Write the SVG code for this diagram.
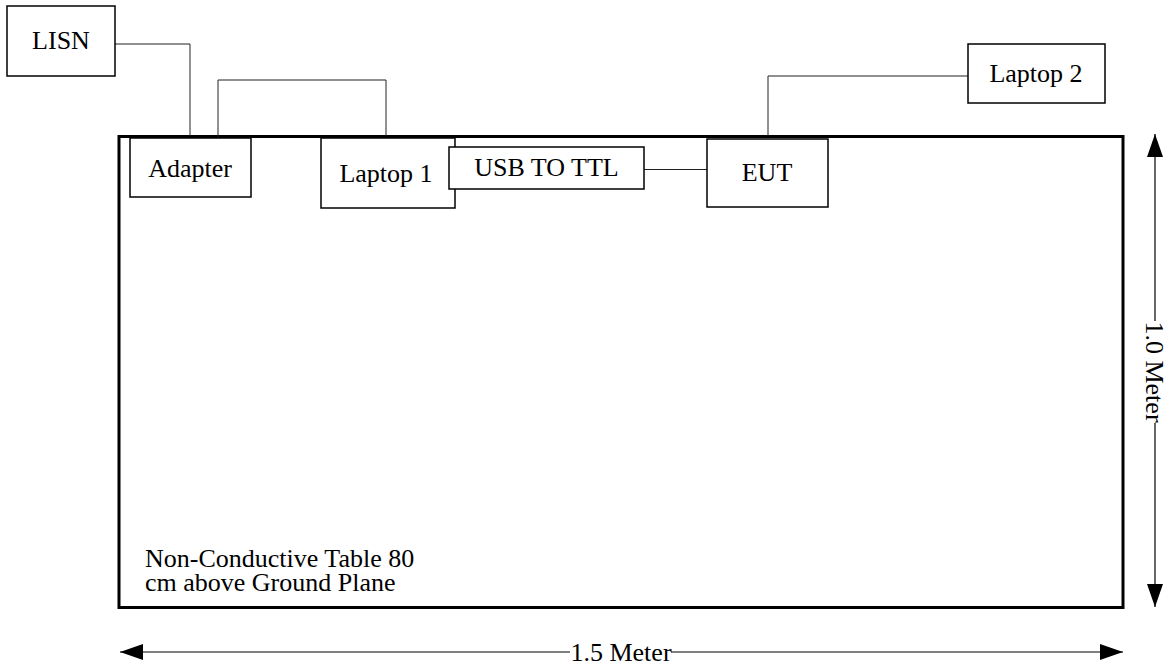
<svg xmlns="http://www.w3.org/2000/svg" width="1169" height="667" viewBox="0 0 1169 667">
<defs>
<style>
.box{fill:#fff;stroke:#000;stroke-width:1.5}
.wire{fill:none;stroke:#222;stroke-width:1}
.dim{fill:none;stroke:#000;stroke-width:1.2}
.t{font-family:'Liberation Serif','Times New Roman',Times,serif;font-size:26px;fill:#000}
.c{text-anchor:middle}
</style>
<marker id="ah" markerWidth="24" markerHeight="16" refX="23" refY="8" orient="auto-start-reverse" markerUnits="userSpaceOnUse">
<path d="M0,0 L23,8 L0,16 Z" fill="#000"/>
</marker>
</defs>
<rect width="1169" height="667" fill="#fff"/>
<g id="table">
<rect x="119" y="136.5" width="1004" height="471" fill="#fff" stroke="#000" stroke-width="3"/>
<text class="t" x="145" y="567">Non-Conductive Table 80</text>
<text class="t" x="145" y="591">cm above Ground Plane</text>
</g>
<g id="connectors">
<polyline class="wire" points="115,44 190,44 190,136"/>
<polyline class="wire" points="218,141 218,80 386,80 386,136"/>
<polyline class="wire" points="644,169.5 707,169.5"/>
<polyline class="wire" points="768,136 768,76 968,76"/>
</g>
<g id="lisn"><rect class="box" x="7" y="6" width="108" height="70"/><text class="t c" x="61" y="49">LISN</text></g>
<g id="adapter"><rect class="box" x="130" y="138" width="121" height="59"/><text class="t c" x="190" y="177">Adapter</text></g>
<g id="laptop1"><rect class="box" x="321" y="138" width="134" height="70"/><text class="t c" x="386" y="182">Laptop 1</text></g>
<g id="usbttl"><rect class="box" x="449" y="147" width="195" height="42"/><text class="t c" x="546.5" y="176">USB TO TTL</text></g>
<g id="eut"><rect class="box" x="707" y="139" width="121" height="68"/><text class="t c" x="767" y="181">EUT</text></g>
<g id="laptop2"><rect class="box" x="968" y="44" width="137" height="59"/><text class="t c" x="1036" y="82">Laptop 2</text></g>
<g id="dimensions">
<line class="dim" x1="570" y1="652" x2="120" y2="652" marker-end="url(#ah)"/>
<line class="dim" x1="671" y1="652" x2="1123" y2="652" marker-end="url(#ah)"/>
<text class="t c" x="621" y="661">1.5 Meter</text>
<line class="dim" x1="1155" y1="321" x2="1155" y2="134" marker-end="url(#ah)"/>
<line class="dim" x1="1155" y1="423" x2="1155" y2="607" marker-end="url(#ah)"/>
<text class="t c" transform="translate(1146,372) rotate(90)" x="0" y="0">1.0 Meter</text>
</g>
</svg>
